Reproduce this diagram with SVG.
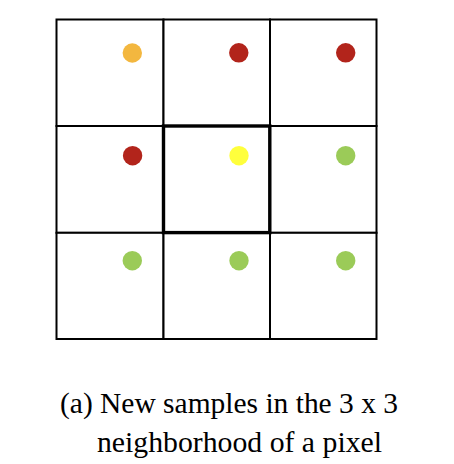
<svg xmlns="http://www.w3.org/2000/svg" width="454" height="464" viewBox="0 0 454 464">
<style>
.cell{fill:#fff;stroke:#000;stroke-width:2}
.center{fill:none;stroke:#000;stroke-width:3.4}
.dot{stroke:none}
.orange{fill:#F3B73F}
.red{fill:#B2241B}
.yellow{fill:#FFFF3C}
.green{fill:#9BCB58}
.cap{font-family:"Liberation Serif","Times New Roman",serif;font-size:29.5px;fill:#000}
</style>
<rect width="454" height="464" fill="#fff"/>
<g id="grid">
<rect class="cell" x="56.5" y="19.5" width="107" height="106.5"/>
<rect class="cell" x="163.5" y="19.5" width="106.5" height="106.5"/>
<rect class="cell" x="270" y="19.5" width="106.5" height="106.5"/>
<rect class="cell" x="56.5" y="126" width="107" height="106.8"/>
<rect class="cell" x="270" y="126" width="106.5" height="106.8"/>
<rect class="cell" x="56.5" y="232.8" width="107" height="106.2"/>
<rect class="cell" x="163.5" y="232.8" width="106.5" height="106.2"/>
<rect class="cell" x="270" y="232.8" width="106.5" height="106.2"/>
<rect id="center-cell" class="center" x="163.5" y="126" width="106.3" height="106.6"/>
</g>
<g id="samples">
<circle id="s00" class="dot orange" cx="132.3" cy="53" r="9.7"/>
<circle id="s01" class="dot red" cx="238.8" cy="52.8" r="9.7"/>
<circle id="s02" class="dot red" cx="345.7" cy="52.8" r="9.7"/>
<circle id="s10" class="dot red" cx="132.6" cy="155.7" r="9.7"/>
<circle id="s11" class="dot yellow" cx="239" cy="155.7" r="9.7"/>
<circle id="s12" class="dot green" cx="345.7" cy="155.7" r="9.7"/>
<circle id="s20" class="dot green" cx="132.3" cy="260.7" r="9.7"/>
<circle id="s21" class="dot green" cx="239" cy="260.7" r="9.7"/>
<circle id="s22" class="dot green" cx="345.7" cy="260.7" r="9.7"/>
</g>
<g id="caption">
<text class="cap" x="60" y="413" textLength="338" lengthAdjust="spacingAndGlyphs">(a) New samples in the 3 x 3</text>
<text class="cap" x="97" y="451.5" textLength="285" lengthAdjust="spacingAndGlyphs">neighborhood of a pixel</text>
</g>
</svg>
